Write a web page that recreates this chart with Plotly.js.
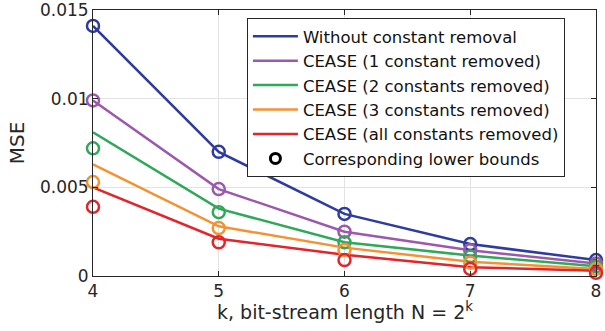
<!DOCTYPE html>
<html>
<head>
<meta charset="utf-8">
<script src="https://cdn.plot.ly/plotly-3.0.1.min.js"></script>
<style>
html,body{margin:0;padding:0;background:#fff;}
#chart{width:605px;height:331px;}
</style>
</head>
<body>
<div id="chart"></div>
<script>
// k values (bit-stream length N = 2^k)
const kValues = [4, 5, 6, 7, 8];

// MSE curves
const mseWithout   = [0.0141, 0.0070, 0.0035, 0.0018, 0.0009];
const mseCease1    = [0.0099, 0.0049, 0.0025, 0.00145, 0.0007];
const mseCease2    = [0.0081, 0.0038, 0.0019, 0.00115, 0.00055];
const mseCease3    = [0.0063, 0.0028, 0.0016, 0.0008, 0.0004];
const mseCeaseAll  = [0.0050, 0.0021, 0.0012, 0.0005, 0.0003];

// Corresponding lower bounds
const lbWithout  = [0.0141, 0.0070, 0.0035, 0.0018, 0.0009];
const lbCease1   = [0.0099, 0.0049, 0.0025, 0.00145, 0.0007];
const lbCease2   = [0.0072, 0.0036, 0.0019, 0.0011, 0.00053];
const lbCease3   = [0.0053, 0.0027, 0.00147, 0.00075, 0.0004];
const lbCeaseAll = [0.0039, 0.0019, 0.0009, 0.0004, 0.00018];

const seriesNames = [
  "Without constant removal",
  "CEASE (1 constant removed)",
  "CEASE (2 constants removed)",
  "CEASE (3 constants removed)",
  "CEASE (all constants removed)"
];
const boundName = "Corresponding lower bounds";
const xTitle = "k, bit-stream length N = 2<sup>k</sup>";
const yTitle = "MSE";

const yTickVals = [0, 0.005, 0.01, 0.015];
const yTickText = ["0", "0.005", "0.01", "0.015"];
const xTickVals = [4, 5, 6, 7, 8];

const colors = ["#2d3c9e", "#9c58ad", "#2fa85a", "#f39232", "#e2252b"];
const mseSeries = [mseWithout, mseCease1, mseCease2, mseCease3, mseCeaseAll];
const lbSeries = [lbWithout, lbCease1, lbCease2, lbCease3, lbCeaseAll];

const traces = [];
for (let i = 0; i < mseSeries.length; i++) {
  traces.push({
    x: kValues, y: mseSeries[i], type: "scatter", mode: "lines",
    name: seriesNames[i], line: {color: colors[i], width: 2.5},
    showlegend: true
  });
}
for (let i = 0; i < lbSeries.length; i++) {
  traces.push({
    x: kValues, y: lbSeries[i], type: "scatter", mode: "markers",
    name: boundName, showlegend: false, cliponaxis: false,
    marker: {symbol: "circle-open", size: 12, color: colors[i], line: {width: 2.5, color: colors[i]}}
  });
}
// legend entry for the lower bounds
traces.push({
  x: [null], y: [null], type: "scatter", mode: "markers",
  name: boundName, showlegend: true,
  marker: {symbol: "circle-open", size: 10, color: "#000", line: {width: 3, color: "#000"}}
});

const fontFam = "DejaVu Sans, sans-serif";
const layout = {
  width: 605, height: 331,
  margin: {l: 93, r: 9, t: 10, b: 55},
  paper_bgcolor: "#fff", plot_bgcolor: "#fff",
  font: {family: fontFam, color: "#262626", size: 17},
  showlegend: true,
  legend: {
    x: 0.306, y: 0.97, xanchor: "left", yanchor: "top",
    bgcolor: "#fff", bordercolor: "#262626", borderwidth: 1,
    font: {family: fontFam, size: 16.5, color: "#111"},
    itemwidth: 45, tracegroupgap: 0
  },
  xaxis: {
    range: [4, 8], tickvals: xTickVals, ticks: "inside", ticklen: 5,
    tickcolor: "#262626", showline: true, linecolor: "#262626", linewidth: 1,
    mirror: "ticks", showgrid: true, gridcolor: "#e3e3e3", zeroline: false,
    tickfont: {size: 17, family: fontFam, color: "#262626"}
  },
  yaxis: {
    range: [0, 0.01500001], tickvals: yTickVals, ticktext: yTickText, ticks: "inside", ticklen: 5,
    tickcolor: "#262626", showline: true, linecolor: "#262626", linewidth: 1,
    mirror: "ticks", showgrid: true, gridcolor: "#e3e3e3", zeroline: false,
    ticklabeloverflow: "allow",
    tickfont: {size: 17, family: fontFam, color: "#262626"},
    title: {text: yTitle, font: {size: 20, family: fontFam, color: "#262626"}, standoff: 9}
  },
  annotations: [{
    text: xTitle, xref: "paper", yref: "paper", x: 0.5, y: -0.132,
    xanchor: "center", yanchor: "middle", showarrow: false,
    font: {size: 19, family: fontFam, color: "#262626"}
  }]
};

Plotly.newPlot("chart", traces, layout, {displayModeBar: false, staticPlot: true});
</script>
</body>
</html>
